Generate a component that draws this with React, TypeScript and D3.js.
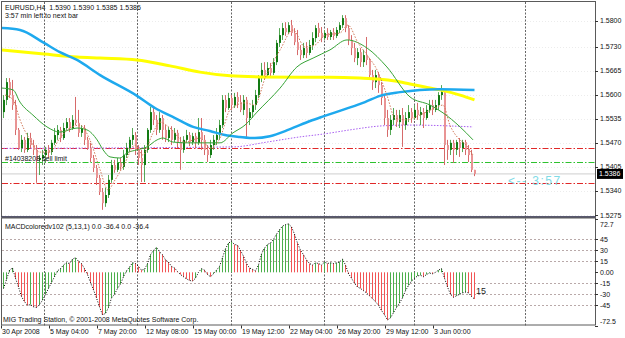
import React from "react";
import * as d3 from "d3";

// ---------- DATA ----------
const firstOpen = 1.5553;
const closes = [
  1.5586,1.5634,1.5599,1.5572,1.5505,1.5456,1.5478,1.5451,1.5483,1.5464,
  1.5451,1.5424,1.5429,1.5437,1.5451,1.5445,1.5470,1.5491,1.5505,1.5483,
  1.5510,1.5526,1.5510,1.5532,1.5524,1.5497,1.5510,1.5478,1.5456,1.5429,
  1.5402,1.5375,1.5337,1.5307,1.5329,1.5370,1.5410,1.5397,1.5416,1.5405,
  1.5437,1.5456,1.5478,1.5491,1.5451,1.5429,1.5410,1.5451,1.5505,1.5553,
  1.5532,1.5505,1.5537,1.5505,1.5483,1.5505,1.5478,1.5497,1.5472,1.5451,
  1.5478,1.5491,1.5472,1.5488,1.5470,1.5499,1.5478,1.5451,1.5437,1.5464,
  1.5478,1.5491,1.5518,1.5586,1.5564,1.5591,1.5572,1.5594,1.5580,1.5559,
  1.5586,1.5537,1.5553,1.5572,1.5599,1.5645,1.5667,1.5653,1.5672,1.5659,
  1.5688,1.5740,1.5761,1.5780,1.5769,1.5788,1.5767,1.5742,1.5721,1.5707,
  1.5726,1.5713,1.5734,1.5753,1.5780,1.5767,1.5753,1.5767,1.5756,1.5769,
  1.5759,1.5775,1.5788,1.5807,1.5780,1.5748,1.5726,1.5699,1.5715,1.5688,
  1.5707,1.5694,1.5653,1.5634,1.5653,1.5626,1.5591,1.5537,1.5505,1.5532,
  1.5545,1.5526,1.5545,1.5518,1.5537,1.5553,1.5537,1.5559,1.5545,1.5553,
  1.5537,1.5559,1.5572,1.5559,1.5572,1.5599,1.5607,1.5464,1.5451,1.5470,
  1.5451,1.5472,1.5456,1.5472,1.5451,1.5437,1.5397,1.5386,
];
const highs = [
  1.5599,1.5645,1.5645,1.5640,1.5586,1.5510,1.5491,1.5486,1.5497,1.5497,
  1.5478,1.5464,1.5437,1.5451,1.5459,1.5464,1.5478,1.5510,1.5518,1.5513,
  1.5524,1.5537,1.5537,1.5545,1.5594,1.5559,1.5518,1.5518,1.5486,1.5470,
  1.5437,1.5410,1.5383,1.5348,1.5348,1.5383,1.5424,1.5424,1.5429,1.5429,
  1.5451,1.5470,1.5486,1.5510,1.5499,1.5464,1.5451,1.5464,1.5510,1.5567,
  1.5564,1.5545,1.5553,1.5545,1.5518,1.5513,1.5515,1.5510,1.5505,1.5486,
  1.5488,1.5505,1.5499,1.5497,1.5497,1.5537,1.5537,1.5491,1.5464,1.5478,
  1.5491,1.5510,1.5532,1.5599,1.5599,1.5605,1.5599,1.5605,1.5607,1.5599,
  1.5599,1.5594,1.5564,1.5586,1.5613,1.5653,1.5686,1.5688,1.5688,1.5686,
  1.5699,1.5748,1.5780,1.5794,1.5796,1.5796,1.5802,1.5780,1.5775,1.5734,
  1.5740,1.5742,1.5748,1.5769,1.5788,1.5794,1.5783,1.5775,1.5780,1.5775,
  1.5780,1.5783,1.5796,1.5815,1.5815,1.5788,1.5761,1.5740,1.5726,1.5726,
  1.5721,1.5756,1.5699,1.5667,1.5667,1.5661,1.5634,1.5599,1.5559,1.5545,
  1.5564,1.5559,1.5559,1.5564,1.5553,1.5572,1.5564,1.5572,1.5578,1.5567,
  1.5564,1.5572,1.5586,1.5586,1.5586,1.5607,1.5626,1.5613,1.5478,1.5478,
  1.5478,1.5478,1.5483,1.5478,1.5478,1.5464,1.5451,1.5397,
];
const lows = [
  1.5537,1.5572,1.5591,1.5559,1.5491,1.5451,1.5445,1.5443,1.5445,1.5456,
  1.5437,1.5362,1.5383,1.5410,1.5416,1.5429,1.5437,1.5464,1.5478,1.5472,
  1.5478,1.5505,1.5499,1.5505,1.5518,1.5486,1.5486,1.5464,1.5451,1.5418,
  1.5391,1.5356,1.5329,1.5289,1.5297,1.5321,1.5362,1.5389,1.5391,1.5397,
  1.5397,1.5429,1.5445,1.5464,1.5437,1.5410,1.5364,1.5364,1.5443,1.5497,
  1.5518,1.5491,1.5497,1.5478,1.5472,1.5472,1.5464,1.5472,1.5456,1.5397,
  1.5443,1.5470,1.5461,1.5464,1.5456,1.5464,1.5451,1.5437,1.5418,1.5429,
  1.5451,1.5464,1.5478,1.5510,1.5553,1.5559,1.5559,1.5564,1.5564,1.5553,
  1.5545,1.5486,1.5518,1.5537,1.5559,1.5591,1.5634,1.5640,1.5645,1.5648,
  1.5653,1.5680,1.5729,1.5748,1.5759,1.5764,1.5759,1.5734,1.5707,1.5694,
  1.5699,1.5699,1.5707,1.5721,1.5742,1.5756,1.5742,1.5748,1.5748,1.5748,
  1.5748,1.5753,1.5767,1.5780,1.5769,1.5734,1.5707,1.5688,1.5680,1.5675,
  1.5675,1.5680,1.5645,1.5613,1.5618,1.5605,1.5572,1.5518,1.5486,1.5491,
  1.5518,1.5513,1.5510,1.5459,1.5505,1.5526,1.5524,1.5532,1.5532,1.5518,
  1.5510,1.5532,1.5551,1.5545,1.5553,1.5559,1.5586,1.5410,1.5424,1.5437,
  1.5416,1.5437,1.5432,1.5445,1.5437,1.5418,1.5391,1.5380,
];
const macd = [
  -22,-10,3,6,-8,-20,-33,-40,-45,-44,
  -47,-48,-44,-38,-30,-22,-14,-6,2,5,
  10,13,12,18,20,15,12,5,-3,-14,
  -24,-35,-47,-58,-56,-48,-35,-30,-22,-16,
  -6,2,7,13,12,8,3,4,12,24,
  30,34,28,24,17,14,8,6,1,-3,
  -6,-9,-11,-12,-8,0,5,3,-3,-6,
  -2,3,8,20,32,40,42,38,37,30,
  22,12,6,4,2,10,25,33,38,40,
  45,52,58,63,65,66,62,52,40,30,
  24,17,12,10,13,12,10,14,12,13,
  12,13,14,18,10,-2,-8,-15,-20,-22,
  -25,-28,-32,-36,-40,-45,-52,-58,-65,-62,
  -55,-48,-42,-35,-25,-18,-12,-8,-5,-4,
  -6,-3,-1,-2,0,3,5,-8,-20,-30,
  -34,-32,-30,-28,-27,-28,-33,-36.4,
];
// moving-average lines: [bar, price]
const blueMA = [
  [-0.5,1.5780],[5.5,1.5775],[13.5,1.5740],[18.8,1.5715],[24.5,1.5694],[32.2,1.5653],
  [44.5,1.5597],[50.5,1.5564],[57.2,1.5537],[63.2,1.5513],[68.8,1.5502],[73.8,1.5491],
  [78.8,1.5486],[83.8,1.5483],[88.8,1.5488],[95.5,1.5507],[102.2,1.5529],[106.8,1.5542],
  [113.8,1.5561],[120.5,1.5580],[125.5,1.5597],[132.2,1.5607],[138.8,1.5613],[145.5,1.5615],[157,1.5613],
];
const yellowMA = [
  [-0.5,1.5721],[13.5,1.5710],[24.5,1.5702],[32.2,1.5699],[44.5,1.5694],[55.5,1.5678],
  [65.5,1.5661],[75.5,1.5651],[85.5,1.5648],[98.8,1.5647],[108.8,1.5647],[118.8,1.5645],
  [125.5,1.5642],[130.5,1.5637],[135.5,1.5629],[140.5,1.5621],[145.5,1.5613],[152.2,1.5599],[157,1.5586],
];
const greenMA = [
  [-0.5,1.5618],[3.2,1.5613],[5.5,1.5580],[9.8,1.5545],[14.5,1.5513],[18.8,1.5499],
  [24.5,1.5510],[27.8,1.5505],[31.2,1.5478],[33.2,1.5451],[35.5,1.5432],[38.8,1.5429],
  [41.2,1.5443],[44.5,1.5451],[47.8,1.5459],[51.2,1.5478],[53.2,1.5483],[56.5,1.5472],
  [61.2,1.5470],[65.5,1.5470],[72.2,1.5470],[76.5,1.5497],[80.5,1.5518],[84.5,1.5553],
  [92.2,1.5618],[97.8,1.5675],[103.2,1.5699],[108.8,1.5721],[114.5,1.5748],[121.2,1.5726],
  [127.8,1.5675],[135.5,1.5594],[142.2,1.5572],[146.5,1.5551],[152.2,1.5513],[156.5,1.5478],
];
const fastMA = [
  [0.5,1.5599],[3.2,1.5586],[5.5,1.5532],[8.8,1.5478],[12.2,1.5445],[15.5,1.5445],
  [18.8,1.5483],[22.2,1.5510],[25.5,1.5518],[28.8,1.5478],[32.2,1.5397],[34.8,1.5343],
  [37.2,1.5370],[40.5,1.5416],[43.8,1.5464],[46.5,1.5437],[49.5,1.5491],[52.2,1.5526],
  [55.5,1.5510],[60.5,1.5472],[65.5,1.5483],[68.8,1.5456],[72.2,1.5483],[75.5,1.5559],
  [80.5,1.5578],[83.8,1.5572],[87.2,1.5645],[92.2,1.5721],[96.5,1.5775],[100.5,1.5729],
  [103.8,1.5734],[107.2,1.5761],[112.2,1.5767],[114.8,1.5788],[118.2,1.5740],[121.2,1.5707],
  [124.5,1.5667],[127.8,1.5599],[130.5,1.5537],[134.5,1.5532],[138.8,1.5545],[143.8,1.5564],
  [146.5,1.5572],[148.8,1.5518],[151.5,1.5483],[154.2,1.5464],[156.5,1.5437],
];
const purpleMA = [
  [0,1.5455],[76.5,1.5459],[87.8,1.5472],[98.8,1.5486],[106.8,1.5494],[115.5,1.5505],
  [126.5,1.5516],[135.5,1.5518],[156.5,1.5513],
];
const orderLevels = [
  { price: 1.5456, kind: "red" },
  { price: 1.5418, kind: "green" },
  { price: 1.5362, kind: "red" },
];
const bidPrice = 1.5386;
const priceTicks = ["1.5800", "1.5730", "1.5665", "1.5600", "1.5535", "1.5470", "1.5405", "1.5340", "1.5275"];
const macdTicks = [72.7, 45, 30, 15, 0, -15, -30, -45, -72.5];
const macdTickLabels = ["72.7", "45", "30", "15", "0.00", "-15", "-30", "-45", "-72.5"];
const macdGrid = [45, 30, 15, -15, -30, -45];
const timeLabels = ["30 Apr 2008", "5 May 04:00", "7 May 20:00", "12 May 08:00", "15 May 00:00",
  "19 May 12:00", "22 May 04:00", "26 May 20:00", "29 May 12:00", "3 Jun 00:00"];
const timeLabelEvery = 16;
const weekGridBars = [13.67, 44.67, 76, 107, 137, 174];

// ---------- LAYOUT ----------
const W = 625, H = 338;
const L = 2, R = 595;
const mainTop = 2, mainBottom = 216.5;
const macdTop = 218.5, macdBottom = 325.5;
const FONT = "'Liberation Sans', Arial, sans-serif";

export default function App() {
  const N = closes.length;
  const x = d3.scaleLinear().domain([0, N - 1]).range([3, 474]);
  const y = d3.scaleLinear().domain([1.5275, 1.58]).range([215, 20.7]);
  const ym = d3.scaleLinear().domain([-72.5, 72.7]).range([325.5, 219]);
  const opens = closes.map((c, i) => (i === 0 ? firstOpen : closes[i - 1]));

  const mkLine = (sc: any) =>
    d3.line<number[]>().x((d) => x(d[0]) + 0.5).y((d) => sc(d[1])).curve(d3.curveMonotoneX);
  const pLine = mkLine(y);

  const macdLine = d3.line<number>().x((_, i) => x(i) + 0.5).y((v) => ym(v));

  return (
    <svg width={W} height={H} style={{ position: "absolute", left: 0, top: 0, background: "#fff" }}
      fontFamily={FONT}>
      <rect x={0} y={0} width={W} height={H} fill="#fff" />
      <defs>
        <clipPath id="mainClip"><rect x={L} y={mainTop} width={R - L} height={mainBottom - mainTop} /></clipPath>
        <clipPath id="macdClip"><rect x={L} y={macdTop} width={R - L} height={macdBottom - macdTop} /></clipPath>
      </defs>

      {/* faint horizontal grid in price panel */}
      {priceTicks.map((t) => (
        <line key={"pg" + t} x1={L} x2={R} y1={Math.round(y(+t)) + 0.5} y2={Math.round(y(+t)) + 0.5}
          stroke="#ececec" strokeDasharray="1,2" />
      ))}
      {/* MACD horizontal grid */}
      {macdGrid.map((v) => (
        <line key={"mg" + v} x1={L} x2={R} y1={Math.round(ym(v)) + 0.5} y2={Math.round(ym(v)) + 0.5}
          stroke="#b9a9a9" strokeDasharray="2,2" />
      ))}
      {/* vertical week grid */}
      {weekGridBars.map((b) => {
        const gx = Math.round(x(b)) + 0.5;
        return (
          <g key={"vg" + b}>
            <line x1={gx} x2={gx} y1={mainTop} y2={mainBottom} stroke="#666" strokeDasharray="2,1.5" />
            <line x1={gx} x2={gx} y1={macdTop} y2={macdBottom} stroke="#666" strokeDasharray="2,1.5" />
          </g>
        );
      })}

      <g clipPath="url(#mainClip)">
        {/* bid line */}
        <line x1={L} x2={R} y1={y(bidPrice)} y2={y(bidPrice)} stroke="#cfcfcf" strokeWidth={1} />
        {/* order lines */}
        {orderLevels.map((o, i) => (
          <line key={"ol" + i} x1={L} x2={R} y1={Math.round(y(o.price)) + 0.5} y2={Math.round(y(o.price)) + 0.5}
            stroke={o.kind === "red" ? "#e02828" : "#2ec22e"} strokeDasharray="6,2,1.5,2" />
        ))}
        {/* purple dotted */}
        <path d={pLine(purpleMA as any) || ""} fill="none" stroke="#a85ff0" strokeWidth={1} strokeDasharray="1.5,1.5" />

        {/* candles */}
        {closes.map((c, i) => {
          const o = opens[i];
          const up = c >= o;
          const cx = x(i);
          const top = y(Math.max(o, c));
          const bot = y(Math.min(o, c));
          return (
            <g key={"c" + i}>
              <line x1={cx + 0.5} x2={cx + 0.5} y1={y(highs[i])} y2={y(lows[i])}
                stroke={up ? "#55a855" : "#d66a6a"} strokeWidth={1} />
              <rect x={cx} y={top} width={2} height={Math.max(1, bot - top)}
                fill={up ? "#137a13" : "#e99494"} />
            </g>
          );
        })}

        {/* moving averages */}
        <path d={pLine(yellowMA as any) || ""} fill="none" stroke="#ffff00" strokeWidth={3} />
        <path d={pLine(blueMA as any) || ""} fill="none" stroke="#1ea9ee" strokeWidth={2.5} />
        <path d={pLine(greenMA as any) || ""} fill="none" stroke="#36a336" strokeWidth={1} />
        <path d={pLine(fastMA as any) || ""} fill="none" stroke="#d07a5a" strokeWidth={1} strokeDasharray="1.5,1.5" />
      </g>

      {/* MACD histogram */}
      <g clipPath="url(#macdClip)">
        {macd.map((v, i) => {
          const rising = i === 0 || v >= macd[i - 1];
          const cx = x(i) + 0.5;
          return (
            <line key={"m" + i} x1={cx} x2={cx} y1={ym(0)} y2={ym(v)}
              stroke={rising ? "#4caf4c" : "#f25555"} strokeWidth={1} />
          );
        })}
        <path d={macdLine(macd) || ""} fill="none" stroke="#000" strokeWidth={1} strokeDasharray="1,1.6" />
      </g>

      {/* frames */}
      <rect x={L - 0.5} y={mainTop - 0.5} width={R - L + 1} height={mainBottom - mainTop + 1} fill="none" stroke="#5a5a5a" />
      <line x1={L - 0.5} x2={R + 0.5} y1={mainBottom + 0.5} y2={mainBottom + 0.5} stroke="#3c3c5a" strokeWidth={1.5} />
      <rect x={L - 0.5} y={macdTop - 0.5} width={R - L + 1} height={macdBottom - macdTop} fill="none" stroke="#5a5a5a" />

      {/* price axis */}
      {priceTicks.map((t) => {
        const ty = y(+t);
        return (
          <g key={"pt" + t}>
            <line x1={R} x2={R + 3} y1={Math.round(ty) + 0.5} y2={Math.round(ty) + 0.5} stroke="#333" />
            <text x={600} y={ty + 2.5} fontSize={7} fill="#111">{t}</text>
          </g>
        );
      })}
      <rect x={597} y={y(bidPrice) - 5} width={26} height={10} fill="#000" />
      <text x={599} y={y(bidPrice) + 2.5} fontSize={7} fill="#fff">{bidPrice.toFixed(4)}</text>

      {/* macd axis */}
      {macdTicks.map((v, i) => {
        const ty = Math.min(Math.max(ym(v), 224.5), 321);
        return (
          <g key={"mt" + i}>
            <line x1={R} x2={R + 3} y1={Math.round(ym(v)) + 0.5} y2={Math.round(ym(v)) + 0.5} stroke="#333" />
            <text x={600} y={ty + 2.5} fontSize={7} fill="#111">{macdTickLabels[i]}</text>
          </g>
        );
      })}

      {/* time axis */}
      {timeLabels.map((t, k) => {
        const tx = x(k * timeLabelEvery);
        return (
          <g key={"tl" + k}>
            <line x1={tx - 1.5} x2={tx - 1.5} y1={macdBottom} y2={macdBottom + 3} stroke="#333" />
            <text x={tx - 1} y={334} fontSize={7} fill="#111">{t}</text>
          </g>
        );
      })}

      {/* texts */}
      <text x={5} y={9.5} fontSize={7} fill="#111" xmlSpace="preserve">EURUSD,H4  1.5390 1.5390 1.5385 1.5386</text>
      <text x={5} y={17.5} fontSize={7} fill="#111">3:57 min left to next bar</text>
      <text x={5} y={161} fontSize={7} fill="#111">#14038208 sell limit</text>
      <text x={508} y={184.5} fontSize={12} fill="#7fdbe6" letterSpacing={1.5}>{"<-- 3:57"}</text>
      <text x={5} y={229} fontSize={7} fill="#111">MACDcoloredv102 (5,13,1) 0.0 -36.4 0.0 -36.4</text>
      <text x={3} y={322} fontSize={7} fill="#111">MIG Trading Station, © 2001-2008 MetaQuotes Software Corp.</text>
      <text x={476} y={294} fontSize={9} fill="#222">15</text>
    </svg>
  );
}
